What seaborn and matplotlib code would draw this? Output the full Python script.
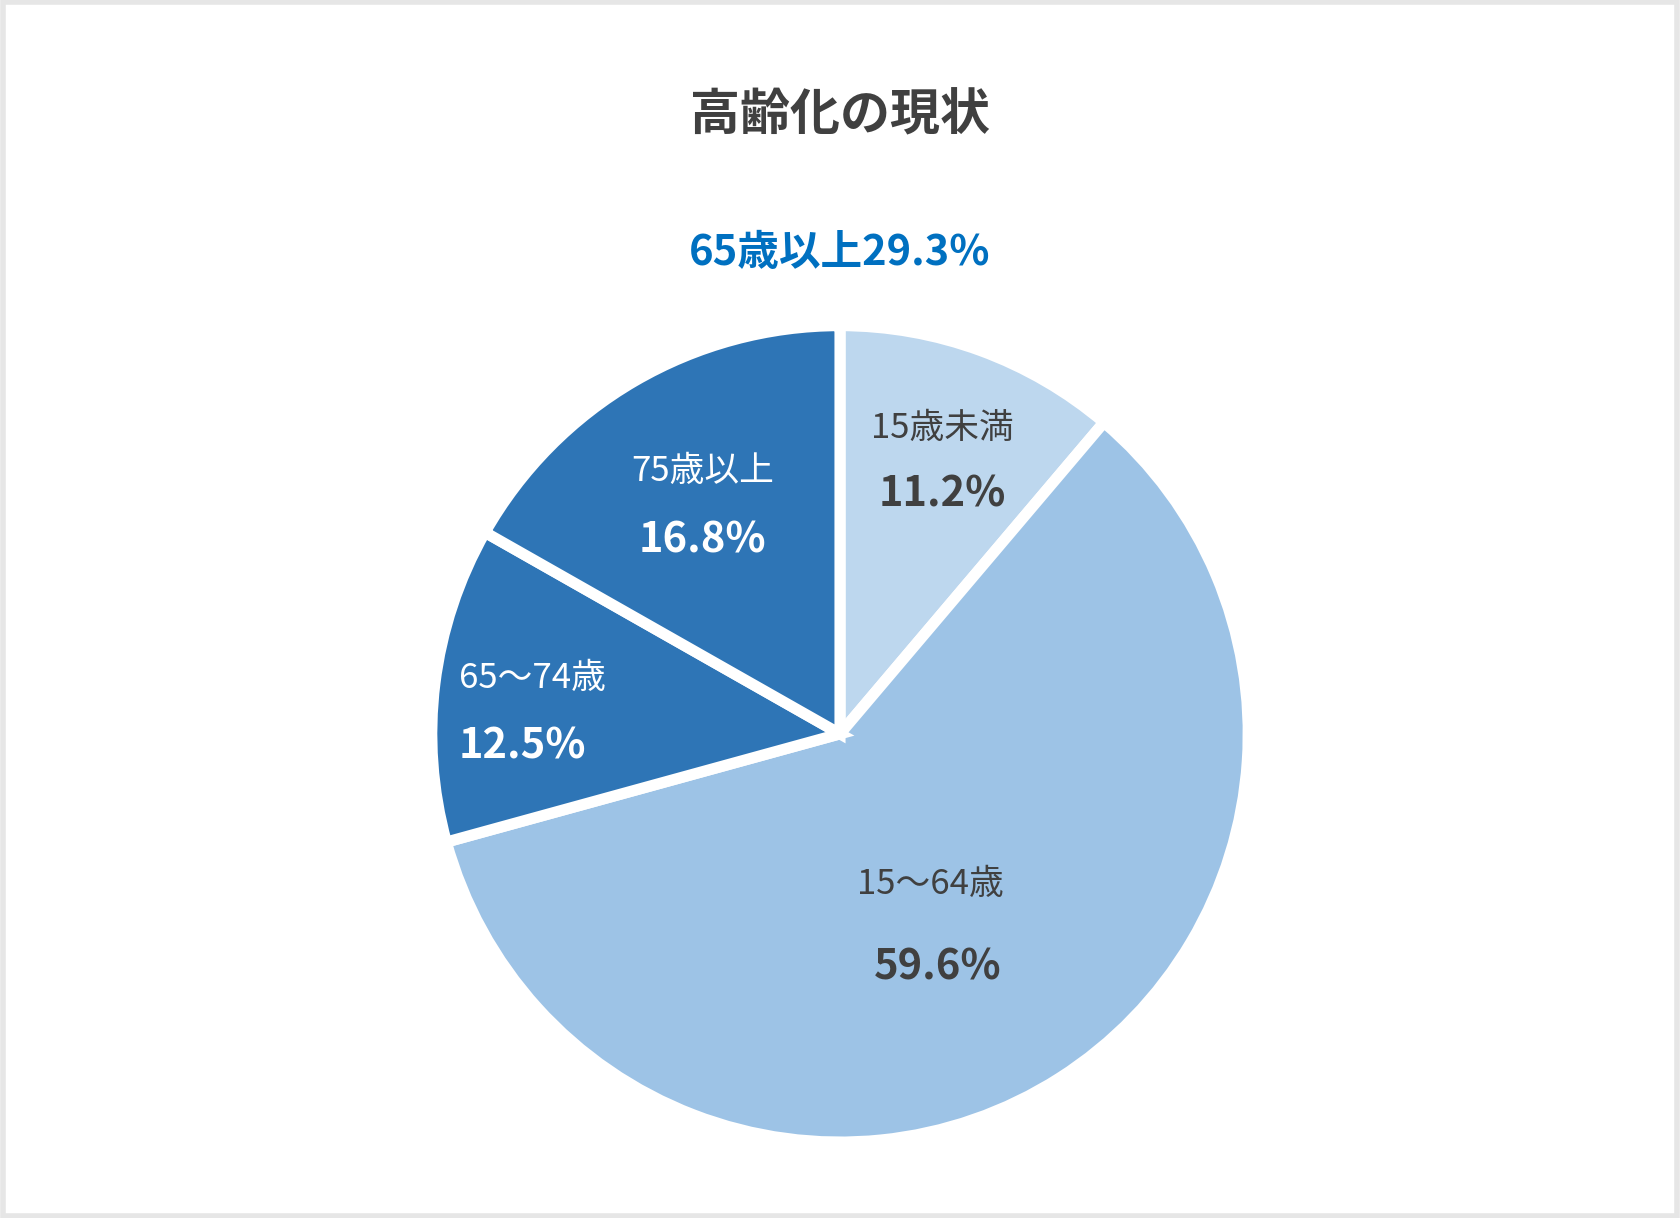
import matplotlib
matplotlib.use("Agg")
import matplotlib.pyplot as plt
import seaborn as sns
from matplotlib.patches import Rectangle

categories = ["15歳未満", "15〜64歳", "65〜74歳", "75歳以上"]
values = [11.2, 59.6, 12.5, 16.8]
colors = ["#BDD7EE", "#9DC3E6", "#2E75B6", "#2E75B6"]
title = "高齢化の現状"
subtitle = "65歳以上29.3%"

sns.set_theme(style="white")
plt.rcParams["font.family"] = ["Noto Sans CJK JP", "DejaVu Sans"]

fig = plt.figure(figsize=(16.8, 12.18), dpi=100)
fig.patches.append(Rectangle((0.002, 0.002), 0.996, 0.996, transform=fig.transFigure,
                             fill=False, edgecolor="#E6E6E6", linewidth=4))

ax = fig.add_axes([0.2545, 0.059, 0.491, 0.677])
ax.pie(values, colors=colors, startangle=90, counterclock=False,
       wedgeprops=dict(edgecolor="white", linewidth=8))
ax.set_xlim(-1.01, 1.01)
ax.set_ylim(-1.01, 1.01)
ax.set_aspect("equal")
ax.axis("off")

dark = "#404040"

def lab(x, y, s, size, color, ha="center", bold=False):
    ax.text(x, y, s, ha=ha, va="center", fontsize=size, color=color,
            fontweight="bold" if bold else "normal", transform=fig.transFigure,
            clip_on=False, zorder=10)

lab(0.50, 0.905, title, 36, dark, bold=True)
lab(0.50, 0.792, subtitle, 30, "#0070C0", bold=True)
lab(0.561, 0.648, "15歳未満", 25, dark)
lab(0.561, 0.594, f"{values[0]}%", 30, dark, bold=True)
lab(0.554, 0.274, "15〜64歳", 25, dark)
lab(0.558, 0.206, f"{values[1]}%", 30, dark, bold=True)
lab(0.273, 0.443, "65〜74歳", 25, "white", ha="left")
lab(0.273, 0.387, f"{values[2]}%", 30, "white", ha="left", bold=True)
lab(0.418, 0.613, "75歳以上", 25, "white")
lab(0.418, 0.556, f"{values[3]}%", 30, "white", bold=True)

fig.savefig("out.png", dpi=100, facecolor="white")
